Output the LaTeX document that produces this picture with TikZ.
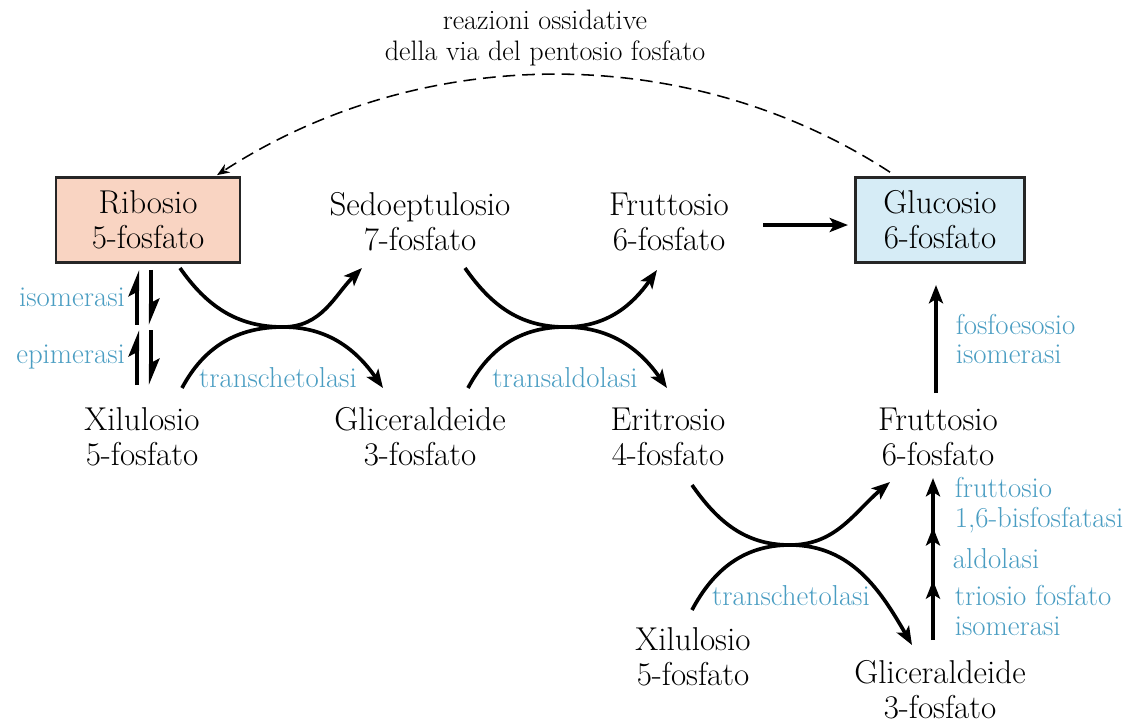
\documentclass[tikz,border=0pt]{standalone}
\usepackage{xcolor}
\usetikzlibrary{arrows.meta}

\definecolor{enzblue}{HTML}{4A9DC2}
\definecolor{ribfill}{HTML}{F9D4C2}
\definecolor{glufill}{HTML}{D6ECF6}

\tikzset{
    met/.style={align=center, inner sep=0pt, font=\fontsize{23.5}{25}\selectfont},
    metbox/.style={met, draw=black!85, line width=1.9pt, minimum width=4.6cm, minimum height=2.125cm},
    enz/.style={align=left, inner sep=0pt, text=enzblue, font=\fontsize{20.5}{21.3}\selectfont},
    rxn/.style={line width=2.6pt, -{Stealth[length=13pt, width=10pt, inset=3pt]}},
    eqarrow/.style={line width=3pt, -{Stealth[harpoon, length=15pt, width=12pt, inset=3pt]}}
}

\begin{document}
\begin{tikzpicture}[x=0.025cm, y=-0.025cm]
            \useasboundingbox (0,0) rectangle (1127,725);

            \node[align=center, inner sep=0pt, font=\fontsize{20}{22.7}\selectfont] (title) at (545, 38)
                {reazioni ossidative\\della via del pentosio fosfato};

            \node[metbox, fill=ribfill] (rib) at (148, 220) {Ribosio\\5-fosfato};
            \node[met] (sed) at (420, 222) {Sedoeptulosio\\7-fosfato};
            \node[met] (fru1) at (669, 222) {Fruttosio\\6-fosfato};
            \node[metbox, fill=glufill, minimum width=4.225cm] (glu) at (940, 220) {Glucosio\\6-fosfato};
            \node[met] (xil1) at (142, 437) {Xilulosio\\5-fosfato};
            \node[met] (gli1) at (420, 437) {Gliceraldeide\\3-fosfato};
            \node[met] (eri) at (668, 437) {Eritrosio\\4-fosfato};
            \node[met] (fru2) at (938, 437) {Fruttosio\\6-fosfato};
            \node[met] (xil2) at (693, 657) {Xilulosio\\5-fosfato};
            \node[met] (gli2) at (940, 690) {Gliceraldeide\\3-fosfato};

            \coordinate (X1) at (283, 327);
            \coordinate (X2) at (565, 327);
            \coordinate (X3) at (790, 545);
            \coordinate (K1) at (933, 586);
            \coordinate (K2) at (933, 530);

            % oxidative branch
            \draw[dashed, dash pattern=on 9pt off 5pt, line width=1.1pt, -{Stealth[length=9pt, width=7pt]}]
                ([shift={(-50,-4)}]glu.north) to[out=147, in=33, looseness=0.92] ([shift={(69,-1)}]rib.north);

            % isomerasi / epimerasi
            \draw[eqarrow] ([shift={(-11,61)}]rib.south) -- ([shift={(-11,6)}]rib.south)
                node[midway, left=0.25cm, enz] {isomerasi};
            \draw[eqarrow] ([shift={(3,6)}]rib.south) -- ([shift={(3,61)}]rib.south);
            \draw[eqarrow] ([shift={(-5,-52)}]xil1.center) -- ([shift={(-5,-107)}]xil1.center)
                node[midway, left=0.25cm, enz] {epimerasi};
            \draw[eqarrow] ([shift={(9,-107)}]xil1.center) -- ([shift={(9,-52)}]xil1.center);

            % transchetolasi
            \draw[rxn] ([shift={(32,48)}]rib.center) to[out=-55, in=180] (X1) to[out=0, in=-135] ([shift={(-58,46)}]sed.center);
            \draw[rxn] ([shift={(40,-49)}]xil1.center) to[out=62, in=180] (X1) to[out=0, in=125] ([shift={(-37,-49)}]gli1.center);
            \node[enz] at (278, 378) {transchetolasi};

            % transaldolasi
            \draw[rxn] ([shift={(45,46)}]sed.center) to[out=-55, in=180] (X2) to[out=0, in=-125] ([shift={(-12,48)}]fru1.center);
            \draw[rxn] ([shift={(48,-49)}]gli1.center) to[out=62, in=180] (X2) to[out=0, in=125] ([shift={(-1,-49)}]eri.center);
            \node[enz] at (565, 378) {transaldolasi};

            % transchetolasi (second)
            \draw[rxn] ([shift={(24,48)}]eri.center) to[out=-55, in=180] (X3) to[out=0, in=-140] ([shift={(-48,45)}]fru2.center);
            \draw[rxn] ([shift={(-1,-47)}]xil2.center) to[out=62, in=180] (X3) to[out=0, in=120] ([shift={(-28,-45)}]gli2.center);
            \node[enz] at (791, 596) {transchetolasi};

            % toward glucosio
            \draw[rxn] ([shift={(94,3)}]fru1.center) -- ([shift={(-92,5)}]glu.center);
            \draw[rxn] ([shift={(-2,-44)}]fru2.center) -- ([shift={(-4,65)}]glu.center)
                node[midway, right=0.45cm, enz] {fosfoesosio\\isomerasi};

            \draw[rxn] ([shift={(-7,-50)}]gli2.center) -- ([yshift=4]K1)
                node[midway, right=0.5cm, enz] {triosio fosfato\\isomerasi};
            \draw[rxn] ([yshift=-3]K1) -- ([yshift=2]K2)
                node[midway, right=0.45cm, enz] {aldolasi};
            \draw[rxn] ([yshift=-2]K2) -- ([shift={(-5,41)}]fru2.center)
                node[midway, right=0.5cm, enz] {fruttosio\\1,6-bisfosfatasi};
        \end{tikzpicture}
\end{document}
